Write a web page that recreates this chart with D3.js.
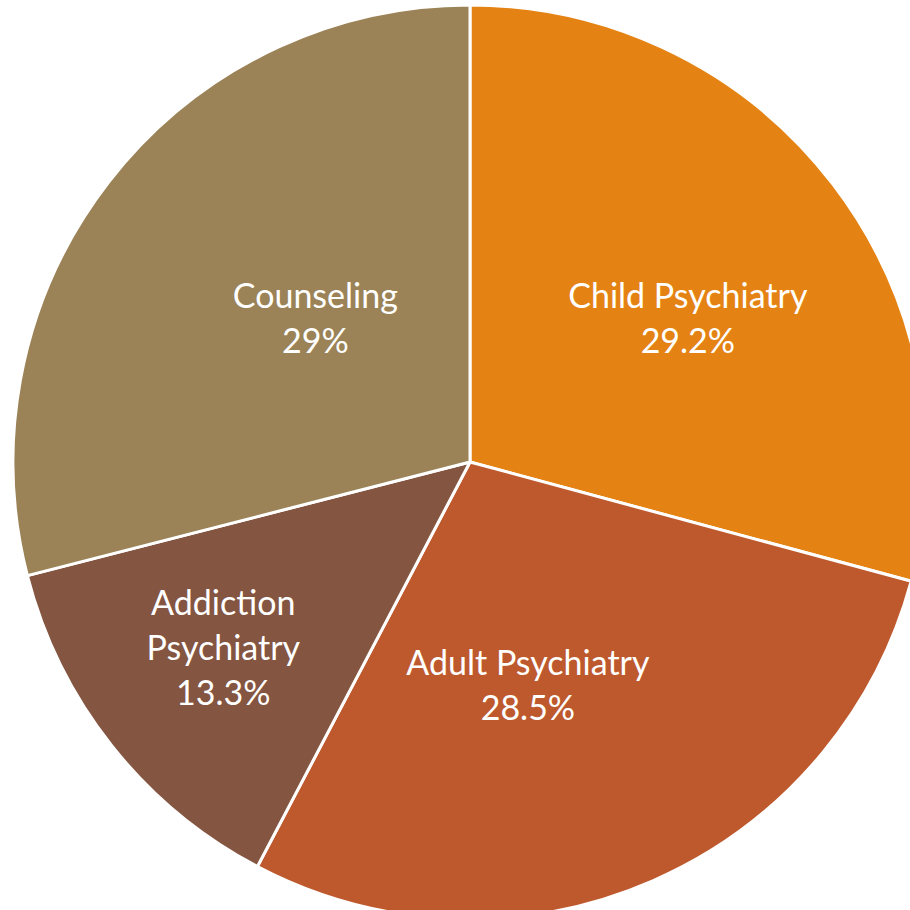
<!DOCTYPE html>
<html>
<head>
<meta charset="utf-8">
<script src="https://cdn.jsdelivr.net/npm/d3@7"></script>
<style>
  html, body { margin: 0; padding: 0; background: #fff; overflow: hidden; }
  svg { display: block; }
  .label { font-family: Lato, "Open Sans", sans-serif; fill: #fff; }
</style>
</head>
<body>
<svg id="chart" width="910" height="910"></svg>
<script>
(function () {
  "use strict";

  // data (clockwise from 12 o'clock)
  const categories = ["Child Psychiatry", "Adult Psychiatry", "Addiction Psychiatry", "Counseling"];
  const shares = [29.2, 28.5, 13.3, 29];
  const shareLabels = ["29.2%", "28.5%", "13.3%", "29%"];
  const labelLines = [["Child Psychiatry"], ["Adult Psychiatry"], ["Addiction", "Psychiatry"], ["Counseling"]];

  const colors = ["#E48313", "#BE592D", "#845540", "#9B8357"];

  // label placement: angle (deg, clockwise from top) and radius as a fraction of the pie radius
  const labelAngle = [56.6, 165.5, 233, 312.9];
  const labelRadius = [0.571, 0.506, 0.676, 0.462];

  const cx = 470, cy = 462, radius = 457;
  const fontSize = 34, lineGap = 45;

  const svg = d3.select("#chart");
  const g = svg.append("g").attr("transform", `translate(${cx},${cy})`);

  const rows = categories.map((c, i) => ({ name: c, value: shares[i], i }));

  const pie = d3.pie().value((d) => d.value).sort(null);
  const arc = d3.arc().innerRadius(0).outerRadius(radius);

  g.selectAll("path.slice")
    .data(pie(rows))
    .join("path")
    .attr("class", "slice")
    .attr("d", arc)
    .attr("fill", (d) => colors[d.data.i])
    .attr("stroke", "#fff")
    .attr("stroke-width", 3)
    .attr("stroke-linejoin", "round");

  const labels = g.selectAll("text.label")
    .data(rows)
    .join("text")
    .attr("class", "label")
    .attr("text-anchor", "middle")
    .style("font-size", fontSize + "px")
    .attr("transform", (d) => {
      const a = (labelAngle[d.i] * Math.PI) / 180;
      const r = labelRadius[d.i] * radius;
      return `translate(${r * Math.sin(a)},${-r * Math.cos(a)})`;
    });

  labels.each(function (d) {
    const lines = labelLines[d.i].concat([shareLabels[d.i]]);
    const top = -((lines.length - 1) * lineGap) / 2;
    d3.select(this)
      .selectAll("tspan")
      .data(lines)
      .join("tspan")
      .attr("x", 0)
      .attr("y", (t, k) => top + k * lineGap)
      .attr("dy", "0.35em")
      .text((t) => t);
  });
})();
</script>
</body>
</html>
